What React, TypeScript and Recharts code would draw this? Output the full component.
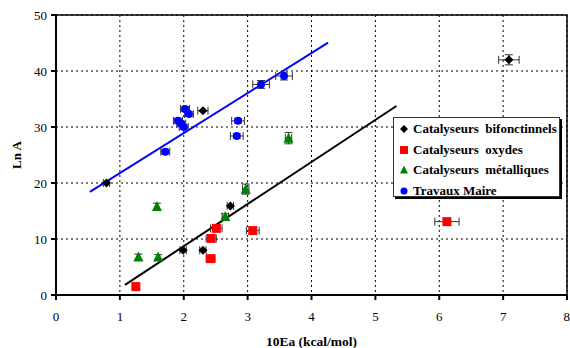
import {
  ScatterChart,
  Scatter,
  XAxis,
  YAxis,
  CartesianGrid,
  ErrorBar,
  ReferenceLine,
  ReferenceArea,
  Legend,
} from 'recharts';

// Catalyseurs bifonctinnels
const bifX = [0.79, 2.3, 1.99, 2.3, 2.73, 7.09];
const bifY = [20.0, 32.9, 8.0, 8.0, 15.9, 42.0];
const bifEx = [0.05, 0.08, 0.05, 0.05, 0.05, 0.16];
const bifEy = [0, 0, 0, 0, 0, 0.9];

// Catalyseurs oxydes
const oxX = [1.25, 2.43, 2.51, 2.42, 3.08, 6.12];
const oxY = [1.5, 10.1, 11.9, 6.5, 11.5, 13.1];
const oxEx = [0, 0.08, 0.09, 0.07, 0.1, 0.19];
const oxEy = [0, 0, 0, 0, 0, 0];

// Catalyseurs métalliques
const metX = [1.29, 1.6, 1.58, 2.65, 2.97, 3.64];
const metY = [6.8, 6.8, 15.8, 14.0, 18.9, 28.0];
const metEx = [0, 0, 0, 0.05, 0.05, 0.05];
const metEy = [0.5, 0.4, 0.6, 0.5, 0.9, 1.0];

// Travaux Maire
const maireX = [1.71, 2.02, 2.08, 1.91, 1.96, 2.0, 2.85, 2.83, 3.21, 3.57];
const maireY = [25.6, 33.2, 32.3, 31.1, 30.6, 30.0, 31.1, 28.4, 37.6, 39.1];
const maireEx = [0.07, 0.07, 0.07, 0.07, 0.07, 0.07, 0.1, 0.1, 0.13, 0.13];
const maireEy = [0.4, 0.4, 0.4, 0.4, 0.4, 0.4, 0.4, 0.4, 0.7, 0.7];

// fitted lines (end points)
const maireFit = [
  { x: 0.53, y: 18.4 },
  { x: 4.26, y: 45.05 },
];
const bifFit = [
  { x: 1.08, y: 1.8 },
  { x: 5.33, y: 33.75 },
];

const xTicks = [0, 1, 2, 3, 4, 5, 6, 7, 8];
const yTicks = [0, 10, 20, 30, 40, 50];

const legendItems = [
  { name: 'Catalyseurs  bifonctinnels', shape: 'diamond', color: '#000000' },
  { name: 'Catalyseurs  oxydes', shape: 'square', color: '#ff0000' },
  { name: 'Catalyseurs  métalliques', shape: 'triangle', color: '#008000' },
  { name: 'Travaux Maire', shape: 'circle', color: '#0000ff' },
];

const build = (xs: number[], ys: number[], ex: number[], ey: number[]) =>
  xs.map((x, i) => ({ x, y: ys[i], ex: ex[i], ey: ey[i] }));

const bifData = build(bifX, bifY, bifEx, bifEy);
const oxData = build(oxX, oxY, oxEx, oxEy);
const metData = build(metX, metY, metEx, metEy);
const maireData = build(maireX, maireY, maireEx, maireEy);

const FONT = '"Liberation Serif", "Times New Roman", serif';

const Marker = ({ cx, cy, kind, color, r = 4.5 }: any) => {
  if (cx == null || cy == null) return null;
  if (kind === 'diamond') {
    return (
      <polygon
        points={`${cx},${cy - r} ${cx + r},${cy} ${cx},${cy + r} ${cx - r},${cy}`}
        fill={color}
      />
    );
  }
  if (kind === 'square') {
    return <rect x={cx - r} y={cy - r} width={r * 2} height={r * 2} fill={color} />;
  }
  if (kind === 'triangle') {
    return (
      <polygon
        points={`${cx},${cy - r - 0.5} ${cx + r},${cy + r - 0.5} ${cx - r},${cy + r - 0.5}`}
        fill={color}
      />
    );
  }
  return <circle cx={cx} cy={cy} r={r} fill={color} />;
};

const LegendBox = () => (
  <div
    style={{
      width: 167,
      height: 80,
      border: '1px solid #333',
      boxShadow: '2px 2px 0 #000',
      background: '#fff',
      fontFamily: FONT,
      fontWeight: 'bold',
      fontSize: 13,
      paddingTop: 1,
      boxSizing: 'border-box',
    }}
  >
    {legendItems.map((it) => (
      <div
        key={it.name}
        style={{ height: 20.5, display: 'flex', alignItems: 'center', whiteSpace: 'pre' }}
      >
        <svg width={18} height={12} style={{ flex: 'none' }}>
          <Marker cx={10} cy={6} kind={it.shape} color={it.color} r={it.shape === 'circle' ? 3.5 : 4} />
        </svg>
        <span style={{ marginLeft: 1 }}>{it.name}</span>
      </div>
    ))}
  </div>
);

const YLabel = () => (
  <text
    x={16}
    y={155}
    transform="rotate(-90 16 155)"
    textAnchor="middle"
    dominantBaseline="central"
    fontFamily={FONT}
    fontWeight="bold"
    fontSize={13}
    fill="#000"
  >
    Ln A
  </text>
);

const errProps = { stroke: '#333', strokeWidth: 1, width: 4 };

export default function App() {
  return (
    <div style={{ position: 'absolute', left: 0, top: 0, width: 570, height: 348, background: '#fff' }}>
      <ScatterChart width={570} height={348} margin={{ top: 15, right: 3, bottom: 0, left: 8 }}>
        <CartesianGrid stroke="#000" strokeDasharray="2 3" strokeWidth={1} />
        <XAxis
          type="number"
          dataKey="x"
          domain={[0, 8]}
          ticks={xTicks}
          height={53}
          tickSize={5}
          tickMargin={12}
          stroke="#000"
          strokeWidth={2}
          tick={{ fill: '#000', fontFamily: FONT, fontSize: 13 }}
          label={{
            value: '10Ea (kcal/mol)',
            position: 'insideBottom',
            offset: 2,
            fill: '#000',
            fontFamily: FONT,
            fontWeight: 'bold',
            fontSize: 13.5,
          }}
        />
        <YAxis
          type="number"
          dataKey="y"
          domain={[0, 50]}
          ticks={yTicks}
          width={48}
          tickSize={5}
          tickMargin={4}
          stroke="#000"
          strokeWidth={2}
          tick={{ fill: '#000', fontFamily: FONT, fontSize: 13 }}
          label={{ content: () => <YLabel /> }}
        />
        <ReferenceArea x1={0} x2={8} y1={0} y2={50} fill="none" stroke="#000" strokeWidth={1.5} />
        <ReferenceLine segment={maireFit} stroke="#0000ff" strokeWidth={2} />
        <ReferenceLine segment={bifFit} stroke="#000" strokeWidth={2} />
        <Scatter
          name="Catalyseurs bifonctinnels"
          data={bifData}
          isAnimationActive={false}
          shape={(p: any) => <Marker {...p} kind="diamond" color="#000000" />}
        >
          <ErrorBar dataKey="ex" direction="x" {...errProps} />
          <ErrorBar dataKey="ey" direction="y" {...errProps} />
        </Scatter>
        <Scatter
          name="Catalyseurs oxydes"
          data={oxData}
          isAnimationActive={false}
          shape={(p: any) => <Marker {...p} kind="square" color="#ff0000" />}
        >
          <ErrorBar dataKey="ex" direction="x" {...errProps} />
        </Scatter>
        <Scatter
          name="Catalyseurs métalliques"
          data={metData}
          isAnimationActive={false}
          shape={(p: any) => <Marker {...p} kind="triangle" color="#008000" r={5} />}
        >
          <ErrorBar dataKey="ex" direction="x" {...errProps} />
          <ErrorBar dataKey="ey" direction="y" {...errProps} />
        </Scatter>
        <Scatter
          name="Travaux Maire"
          data={maireData}
          isAnimationActive={false}
          shape={(p: any) => <Marker {...p} kind="circle" color="#0000ff" r={4} />}
        >
          <ErrorBar dataKey="ex" direction="x" {...errProps} />
          <ErrorBar dataKey="ey" direction="y" {...errProps} />
        </Scatter>
        <Legend
          layout="horizontal"
          verticalAlign="middle"
          align="center"
          content={() => <LegendBox />}
          wrapperStyle={{ position: 'absolute', left: 393, top: 117, width: 169, height: 82 }}
        />
      </ScatterChart>
    </div>
  );
}
